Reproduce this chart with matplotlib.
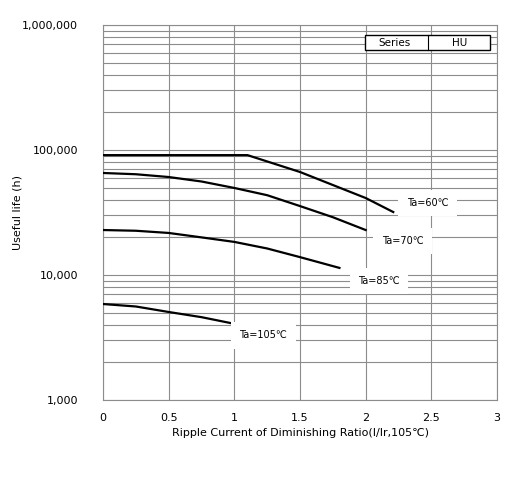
import numpy as np
import matplotlib.pyplot as plt
from matplotlib.ticker import FixedLocator, FuncFormatter, LogLocator, NullFormatter

# curves (ratio vs useful life in hours)
x60 = [0.0, 0.5, 1.0, 1.1, 1.5, 2.0, 2.21]
y60 = [91000, 91000, 91000, 91000, 66700, 41300, 31900]

x70 = [0.0, 0.25, 0.5, 0.75, 1.0, 1.25, 1.5, 1.75, 2.0]
y70 = [65500, 64000, 60800, 56000, 49700, 43500, 35600, 29000, 22900]

x85 = [0.0, 0.25, 0.5, 0.75, 1.0, 1.25, 1.5, 1.8]
y85 = [22900, 22600, 21700, 20000, 18400, 16300, 13900, 11400]

x105 = [0.0, 0.25, 0.5, 0.75, 0.97]
y105 = [5860, 5600, 5060, 4600, 4130]

labels = ['Ta=60℃', 'Ta=70℃', 'Ta=85℃', 'Ta=105℃']
label_pos = [(2.47, 37700), (2.28, 18700), (2.10, 8950), (1.22, 3300)]

fig = plt.figure(figsize=(5.24, 4.82), dpi=100)
ax = fig.add_axes([0.1966, 0.1701, 0.7519, 0.7780])

ax.set_yscale('log')
ax.set_xlim(0, 3)
ax.set_ylim(1000, 1000000)

ax.xaxis.set_major_locator(FixedLocator([0, 0.5, 1, 1.5, 2, 2.5, 3]))
ax.xaxis.set_major_formatter(FuncFormatter(lambda v, p: '%g' % v))
ax.yaxis.set_major_locator(FixedLocator([1000, 10000, 100000, 1000000]))
ax.yaxis.set_major_formatter(FuncFormatter(lambda v, p: '{:,.0f}'.format(v)))
ax.yaxis.set_minor_locator(LogLocator(base=10, subs=np.arange(2, 10)))
ax.yaxis.set_minor_formatter(NullFormatter())

ax.grid(True, which='major', color='#8c8c8c', lw=0.8)
ax.grid(True, which='minor', axis='y', color='#8c8c8c', lw=0.8)
ax.tick_params(which='both', length=0)
ax.tick_params(axis='x', pad=9, labelsize=8)
ax.tick_params(axis='y', pad=18, labelsize=8)
for s in ax.spines.values():
    s.set_color('#8c8c8c')
    s.set_linewidth(0.8)

for xs, ys in [(x60, y60), (x70, y70), (x85, y85), (x105, y105)]:
    ax.plot(xs, ys, color='black', lw=1.6, zorder=3)

for txt, (lx, ly) in zip(labels, label_pos):
    ax.text(lx, ly, txt, fontsize=7, ha='center', va='center', zorder=4,
            bbox=dict(facecolor='white', edgecolor='none', pad=6))

# Series / HU box
box = plt.Rectangle((0.665, 0.933), 0.317, 0.04, transform=ax.transAxes,
                    facecolor='white', edgecolor='black', lw=1.0, zorder=4)
ax.add_patch(box)
ax.plot([0.825, 0.825], [0.933, 0.973], transform=ax.transAxes,
        color='black', lw=0.8, zorder=5)
ax.text(0.739, 0.952, 'Series', transform=ax.transAxes, fontsize=7.5,
        ha='center', va='center', zorder=5)
ax.text(0.906, 0.952, 'HU', transform=ax.transAxes, fontsize=7.5,
        ha='center', va='center', zorder=5)

ax.set_xlabel('Ripple Current of Diminishing Ratio(I/Ir,105℃)', fontsize=8, labelpad=4)
ax.set_ylabel('Useful life (h)', fontsize=8)
ax.yaxis.set_label_coords(-0.205, 0.5)

plt.savefig('out.png', dpi=100)
